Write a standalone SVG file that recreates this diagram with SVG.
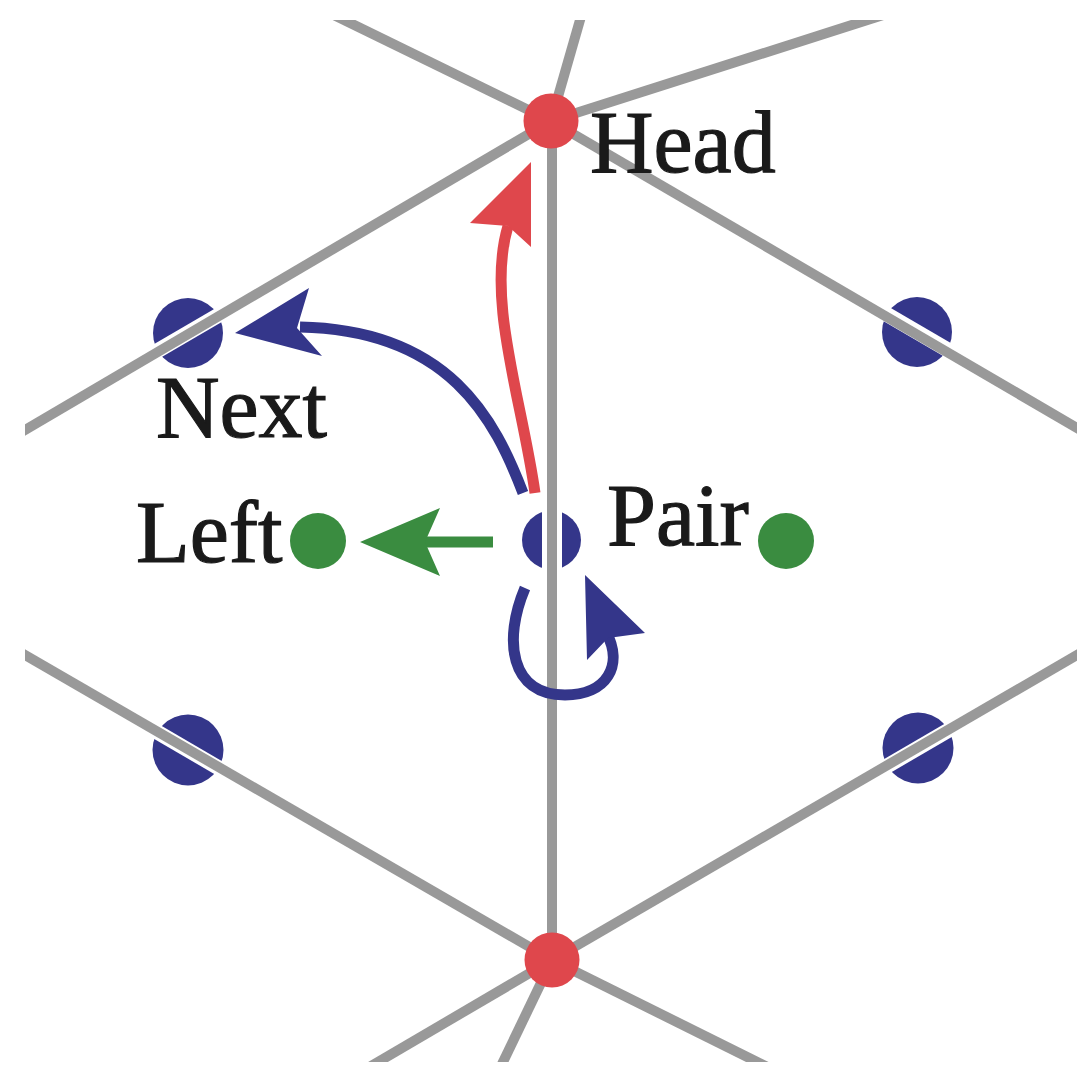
<svg xmlns="http://www.w3.org/2000/svg" width="1077" height="1067" viewBox="0 0 1077 1067">
  <defs>
    <clipPath id="frame"><rect x="25" y="20" width="1052" height="1042"/></clipPath>
    <style>
      .edge { stroke: #999999; stroke-width: 10; fill: none; stroke-linecap: butt; }
      .gap { stroke: #ffffff; stroke-width: 15; fill: none; }
      .he { fill: #34368a; }
      .vert { fill: #df474c; }
      .face { fill: #3a8c40; }
      .blue { stroke: #34368a; stroke-width: 11; fill: none; }
      .red { stroke: #df474c; stroke-width: 11; fill: none; }
      .green { stroke: #3a8c40; stroke-width: 11; fill: none; }
      .lbl { font-family: "Liberation Serif", "Times New Roman", serif; font-size: 88px; fill: #1a1a1a; stroke: #1a1a1a; stroke-width: 1.2; }
    </style>
  </defs>
  <rect width="1077" height="1067" fill="#ffffff"/>

  <g id="half-edges">
    <circle class="he" cx="188" cy="333" r="35"/>
    <circle class="he" cx="917" cy="332" r="35"/>
    <circle class="he" cx="188" cy="750" r="35.5"/>
    <circle class="he" cx="918" cy="748" r="35.5"/>
    <circle class="he" cx="551.5" cy="540" r="29.5"/>
    <line class="gap" x1="140" y1="361" x2="236" y2="305"/>
    <line class="gap" x1="869" y1="304" x2="965" y2="360"/>
    <line class="gap" x1="140" y1="722" x2="236" y2="778"/>
    <line class="gap" x1="870" y1="776" x2="966" y2="720"/>
    <line x1="552" y1="505" x2="552" y2="578" stroke="#ffffff" stroke-width="20"/>
  </g>

  <g id="mesh-edges" clip-path="url(#frame)">
    <line class="edge" x1="551" y1="121" x2="137" y2="-81"/>
    <line class="edge" x1="551" y1="121" x2="609" y2="-81"/>
    <line class="edge" x1="551" y1="121" x2="1209" y2="-89"/>
    <line class="edge" x1="551" y1="121" x2="-501" y2="739"/>
    <line class="edge" x1="551" y1="121" x2="1603" y2="735"/>
    <line class="edge" x1="552" y1="121" x2="552" y2="960"/>
    <line class="edge" x1="552" y1="960" x2="-502" y2="350"/>
    <line class="edge" x1="552" y1="960" x2="1602" y2="350"/>
    <line class="edge" x1="552" y1="960" x2="204" y2="1164"/>
    <line class="edge" x1="552" y1="960" x2="454" y2="1164"/>
    <line class="edge" x1="552" y1="960" x2="1164" y2="1264"/>
  </g>

  <g id="vertices">
    <circle id="head-vertex" class="vert" cx="551" cy="121" r="27.5"/>
    <circle id="bottom-vertex" class="vert" cx="552" cy="960" r="27.5"/>
  </g>

  <g id="faces">
    <circle id="left-face" class="face" cx="318" cy="541" r="28"/>
    <circle id="right-face" class="face" cx="786" cy="541" r="28"/>
  </g>

  <g id="connectors">
    <path class="blue" d="M523,493 C495,420 450,330 300,327"/>
    <polygon class="he" points="235,333 309,288 297,328 322,356"/>
    <path class="red" d="M535,493 C522,400 486,300 508,226"/>
    <polygon class="vert" points="531,162 470,223 508,226 531,247"/>
    <path class="blue" d="M525,588 C503,640 510,695 565,695 C607,695 624,665 606,632"/>
    <polygon class="he" points="585,575 645,633 608,638 587,660"/>
    <line class="green" x1="493" y1="542" x2="425" y2="542"/>
    <polygon class="face" points="360,542 440,508 425,542 440,576"/>
  </g>

  <g id="labels">
    <text class="lbl" x="590" y="172">Head</text>
    <text class="lbl" x="156" y="437">Next</text>
    <text class="lbl" x="136" y="562">Left</text>
    <text class="lbl" x="607" y="545">Pair</text>
  </g>
</svg>
